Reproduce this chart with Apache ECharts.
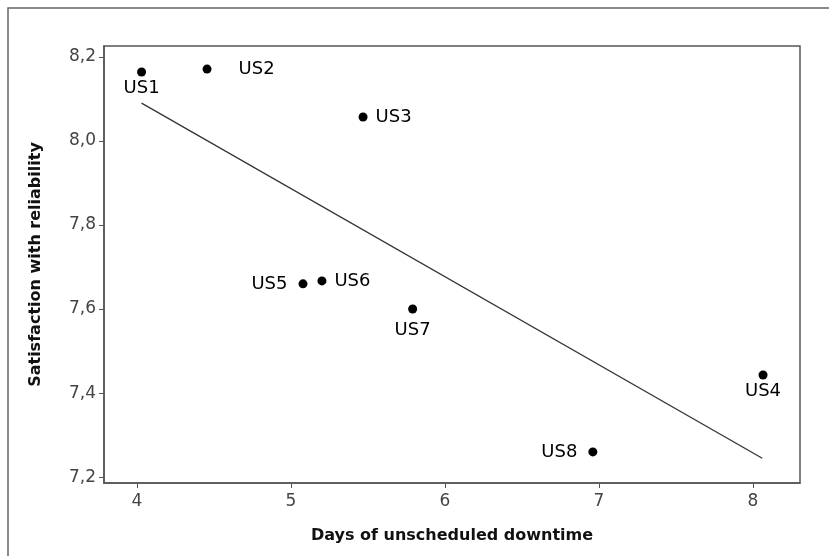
<!DOCTYPE html>
<html lang="en">
<head>
    <meta charset="UTF-8">
    <title>Downtime vs satisfaction</title>
    <script src="https://cdn.jsdelivr.net/npm/echarts@6/dist/echarts.min.js"></script>
</head>
<style>
    *{
        margin: 0px;
    }
    body{
        background: #fff;
    }
    #main{
        width: 829px;
        height: 556px;
    }
</style>
<body>
<div id="main"></div>
<script type="text/javascript">
    // data
    var names = ["US1", "US2", "US3", "US4", "US5", "US6", "US7", "US8"];
    var downtime = [4.03, 4.455, 5.468, 8.065, 5.078, 5.201, 5.79, 6.96];
    var satisfaction = [8.164, 8.171, 8.057, 7.443, 7.66, 7.667, 7.6, 7.26];
    // where each label sits relative to its point
    var labelPos = ["bottom", "right", "right", "bottom", "left", "right", "bottom", "left"];
    var labelGap = [3, 27, 8, 3, 11, 8, 8, 11];
    // fitted line ends
    var trendX = [4.03, 8.06];
    var trendY = [8.09, 7.245];
    var xTicks = [4, 5, 6, 7, 8];
    var yTicks = [7.2, 7.4, 7.6, 7.8, 8.0, 8.2];

    var points = [];
    for (var i = 0; i < names.length; i++) {
        points.push({
            value: [downtime[i], satisfaction[i]],
            name: names[i],
            label: {position: labelPos[i], distance: labelGap[i]}
        });
    }
    var trend = [];
    for (var j = 0; j < trendX.length; j++) {
        trend.push([trendX[j], trendY[j]]);
    }

    var myChart = echarts.init(document.getElementById('main'));
    var tickFont = {color: '#444', fontSize: 17, fontFamily: 'DejaVu Sans'};
    var option = {
        backgroundColor: '#fff',
        animation: false,
        graphic: [{
            type: 'rect',
            shape: {x: 8, y: 8, width: 840, height: 570},
            style: {fill: 'none', stroke: '#666', lineWidth: 1.5}
        }],
        grid: {
            left: 104, top: 46, right: 29, bottom: 73,
            show: true, borderColor: '#555', borderWidth: 1.5
        },
        xAxis: {
            type: 'value',
            min: 3.786, max: 8.305,
            name: 'Days of unscheduled downtime',
            nameLocation: 'middle',
            nameGap: 45,
            nameTextStyle: {fontWeight: 'bold', fontSize: 16, color: '#111', fontFamily: 'DejaVu Sans'},
            axisLine: {lineStyle: {color: '#555', width: 1.5}},
            axisTick: {show: true, length: 5, customValues: xTicks, lineStyle: {color: '#555'}},
            axisLabel: Object.assign({customValues: xTicks, margin: 10}, tickFont),
            splitLine: {show: false}
        },
        yAxis: {
            type: 'value',
            min: 7.186, max: 8.226,
            name: 'Satisfaction with reliability',
            nameLocation: 'middle',
            nameGap: 60,
            nameTextStyle: {fontWeight: 'bold', fontSize: 16, color: '#111', fontFamily: 'DejaVu Sans'},
            axisLine: {show: true, lineStyle: {color: '#555', width: 1.5}},
            axisTick: {show: true, length: 5, customValues: yTicks, lineStyle: {color: '#555'}},
            axisLabel: Object.assign({
                customValues: yTicks, margin: 8,
                formatter: function (v) { return v.toFixed(1).replace('.', ','); }
            }, tickFont),
            splitLine: {show: false}
        },
        series: [{
            type: 'line',
            data: trend,
            symbol: 'none',
            lineStyle: {color: '#333', width: 1.3},
            silent: true
        }, {
            type: 'scatter',
            data: points,
            symbolSize: 9,
            itemStyle: {color: '#000', opacity: 1},
            label: {
                show: true,
                formatter: '{b}',
                color: '#000',
                fontSize: 18,
                fontFamily: 'DejaVu Sans'
            }
        }]
    };
    myChart.setOption(option);
</script>
</body>
</html>
